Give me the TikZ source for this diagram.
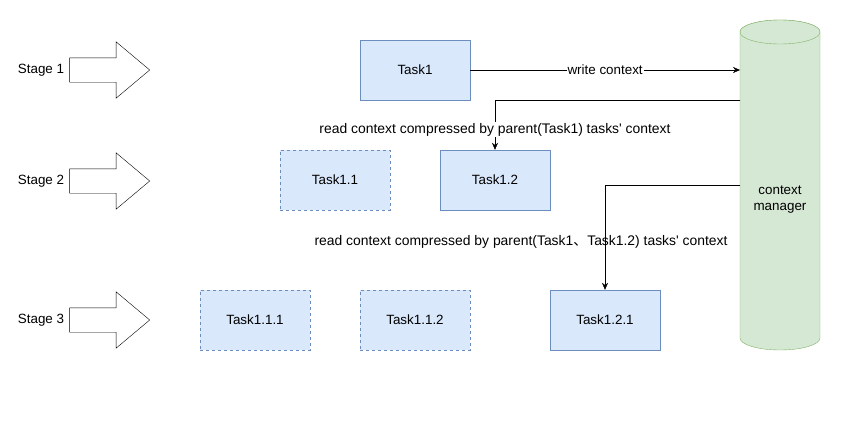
\documentclass[tikz,border=0pt]{standalone}
\usepackage{fontspec}
\setmainfont{Liberation Sans}
\newfontfamily\cjk{Noto Sans CJK SC}
\usepackage{tikz}
\usetikzlibrary{arrows.meta,calc,positioning,shapes.arrows}

\definecolor{taskfill}{HTML}{DAE8FC}
\definecolor{taskline}{HTML}{6C8EBF}
\definecolor{cmfill}{HTML}{D5E8D4}
\definecolor{cmline}{HTML}{82B366}

\begin{document}
\begin{tikzpicture}[x=1pt,y=-1pt,
font=\fontsize{13.4}{16}\selectfont,
taskbox/.style={draw=taskline,fill=taskfill,minimum width=110pt,minimum height=60pt,inner sep=0pt},
plannedbox/.style={taskbox,dashed},
stagearrow/.style={single arrow,draw,thin,inner sep=12pt,minimum height=80pt,
  single arrow head extend=16pt,single arrow tip angle=80,anchor=tip},
conn/.style={-{Stealth[length=7pt,width=6pt]},thin},
readlabel/.style={font=\fontsize{13.9}{16}\selectfont,inner sep=1pt},]
\useasboundingbox (0,0) rectangle (850,420);

% stages
\node[stagearrow] (s1) at (150,70) {};
\node[stagearrow] (s2) at (150,181) {};
\node[stagearrow] (s3) at (150,320) {};
\node (s1l) at (41,70) {Stage 1};
\node (s2l) at (41,181) {Stage 2};
\node (s3l) at (41,320) {Stage 3};

% tasks
\node[taskbox] (t1) at (415,70) {Task1};
\node[plannedbox] (t11) at (335,180) {Task1.1};
\node[taskbox] (t12) at (495,180) {Task1.2};
\node[plannedbox] (t111) at (255,320) {Task1.1.1};
\node[plannedbox] (t112) at (415,320) {Task1.1.2};
\node[taskbox] (t121) at (605,320) {Task1.2.1};

% context manager
\draw[cmline,fill=cmfill] (740,32) -- (740,338) arc[start angle=180,end angle=360,x radius=40,y radius=-12]
  -- (820,32) arc[start angle=0,end angle=180,x radius=40,y radius=-12] -- cycle;
\draw[cmline,fill=cmfill] (780,32) ellipse[x radius=40,y radius=12];
\node[align=center] (cm) at (780,200) {context\\manager};
\coordinate (cmleft) at (740,200);
\coordinate (rd1) at (740,100);
\coordinate (rd2) at (740,185);

\draw[conn] (t1.east) -- node[fill=white,inner sep=1pt] (wl) {write context} (t1.east -| cmleft);
\draw[conn] (rd1) -| node[pos=0.8,fill=white,readlabel] (r1l)
  {read context compressed by parent(Task1) tasks\textquotesingle{} context} (t12.north);
\draw[conn] (rd2) -| node[pos=0.77,xshift=-84pt,readlabel] (r2l)
  {read context compressed by parent(Task1{\cjk 、}Task1.2) tasks\textquotesingle{} context} (t121.north);

\end{tikzpicture}
\end{document}
